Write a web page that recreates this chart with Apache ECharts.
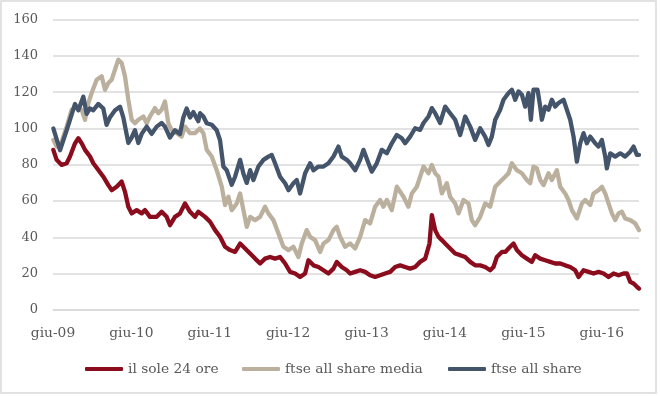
<!DOCTYPE html>
<html>
<head>
<meta charset="utf-8">
<script src="https://cdn.jsdelivr.net/npm/echarts@6/dist/echarts.min.js"></script>
<style>
html,body{margin:0;padding:0;background:#fff;}
#c{width:660px;height:396px;}
</style>
</head>
<body>
<div id="c"></div>
<script>
// months since giu-09
const tickLabels = ['giu-09','giu-10','giu-11','giu-12','giu-13','giu-14','giu-15','giu-16'];
const seriesNames = ['il sole 24 ore','ftse all share media','ftse all share'];

const soleMonths = [0.05,0.56,1.33,2.09,2.6,3.37,3.88,4.39,4.9,5.66,6.17,6.94,7.7,8.47,8.98,9.74,10.51,11.02,11.53,12.04,12.81,13.57,14.08,14.85,15.87,16.63,17.4,17.91,18.67,19.44,20.2,20.97,21.73,22.24,23.28,24.04,24.81,25.57,26.34,27.1,27.87,28.64,29.4,30.17,30.93,31.7,32.46,33.23,33.99,34.76,35.53,36.29,37.06,37.82,38.59,39.1,39.87,40.63,41.4,42.16,42.93,43.44,44.2,44.97,45.48,46.25,47.01,47.78,48.54,49.31,50.07,50.84,51.61,52.37,53.14,53.9,54.67,55.43,56.2,56.97,57.63,57.99,58.5,59.01,59.52,60.03,60.79,61.56,62.33,63.09,63.86,64.62,65.39,66.15,66.92,67.43,67.94,68.71,69.22,69.98,70.49,71.0,71.77,72.53,73.3,73.81,74.58,75.34,76.11,76.87,77.64,78.4,79.17,79.94,80.45,81.21,81.98,82.74,83.51,84.27,85.04,85.81,86.57,87.34,87.85,88.36,88.87,89.38,89.7];
const soleValues = [88.2,82.7,79.9,80.8,84.5,91.8,94.6,91.8,88.2,84.5,80.8,77.1,73.4,68.8,66,67.9,70.7,65.1,56.9,53.2,55,53.2,55,51.3,51.3,54.1,51.3,46.7,51.3,53.2,58.7,54.1,51.3,54.1,51.3,48.6,44,40.3,34.8,33,32,36.6,33.9,31.1,28.3,25.6,28.3,29.2,28.3,29.2,25.6,21,20.1,18.2,20.1,27.4,24.6,23.7,21.9,20.1,22.8,26.5,23.7,21.9,20.1,21,21.9,21,19.1,18.2,19.1,20.1,21,23.7,24.6,23.7,22.8,23.7,26.5,28.3,36.6,52.3,44,40.3,38.5,36.6,33.9,31.1,30.2,29.2,26.5,24.6,24.6,23.7,21.9,23.7,29.2,32,32,34.8,36.6,33,30.2,28.3,26.5,30.2,28.3,27.4,26.5,25.6,25.6,24.6,23.7,21.9,18.2,21.9,21,20.1,21,20.1,18.2,20.1,19.1,20.1,20.1,15.5,14.6,12.8,11.8];

const mediaMonths = [0.05,0.56,1.33,2.09,2.86,3.62,4.39,4.9,5.41,5.92,6.68,7.45,7.96,8.47,8.98,9.49,10.0,10.51,11.02,11.53,12.04,12.55,13.06,13.83,14.34,14.85,15.61,16.12,16.63,17.14,17.65,18.16,18.93,19.69,20.2,20.97,21.73,22.5,23.02,23.53,24.3,25.06,25.83,26.34,26.85,27.36,28.13,28.64,29.15,29.66,30.17,30.93,31.7,32.46,32.97,33.74,34.51,35.27,36.04,36.8,37.57,38.08,38.84,39.36,40.12,40.89,41.4,42.16,42.93,43.44,43.95,44.71,45.48,46.25,47.01,47.78,48.54,49.31,50.07,50.58,51.1,51.86,52.63,53.14,53.65,54.41,54.92,55.69,56.2,56.71,57.48,57.99,58.5,59.01,59.52,60.28,60.79,61.56,62.07,62.84,63.6,64.11,64.62,65.39,66.15,66.92,67.69,68.45,69.22,69.73,70.24,71.0,71.77,72.53,73.04,73.55,74.07,74.58,75.09,75.85,76.36,77.13,77.64,78.4,78.91,79.43,80.19,80.96,81.47,82.23,82.74,83.51,84.02,84.53,85.04,85.55,86.06,86.57,87.08,87.59,88.36,89.12,89.7];
const mediaValues = [93.7,90,92.8,101,110.3,112,110.3,104.8,114,119.5,126.8,128.7,121.3,125,126.8,132.4,137.9,136,128.7,115.8,104.8,102.9,104.8,106.6,102.9,106.6,111.2,108.4,110.3,114.9,102.9,99.2,97.4,95.5,101,97.4,97.4,100,97.4,88.2,84.5,77,67.9,57.8,62.4,55,58.7,64.2,55,45.8,51.3,49.5,51.3,56.9,53.2,49.5,42.1,34.8,33,34.8,29.2,36.6,44,40.3,38.5,32,36.6,38.5,44,45.8,40.3,34.8,36.6,33.9,40.3,49.5,47.7,56.9,60.6,56.9,60.6,55,67.9,65.1,62.4,56.9,64.2,67.9,73.4,79,75.3,79.9,75.3,73.4,64.2,69.8,62.4,58.7,53.2,60.6,58.7,49.5,46.7,51.3,58.7,56.9,67.9,70.7,73.4,75.3,80.8,77,75.3,71.6,69.8,79,78,71.6,68.8,75.3,71.6,77,67.9,64.2,60.6,55,50.4,58.7,60.6,57.8,64.2,66,67.9,64.2,58.7,53.2,49.5,53.2,54.1,50.4,49.5,47.7,44];

const allMonths = [0.05,1.07,2.09,3.37,3.88,4.64,5.15,5.66,6.17,6.94,7.7,8.2,8.7,9.5,10.26,10.77,11.53,12.04,12.55,13.06,13.57,14.34,15.1,15.87,16.63,17.14,17.9,18.67,19.44,19.95,20.46,20.97,21.48,22.24,22.51,23.02,23.53,24.3,25.06,25.57,26.08,26.59,27.36,27.87,28.64,29.15,29.66,30.17,30.68,31.44,32.21,32.97,33.48,33.99,34.76,35.53,36.04,36.8,37.31,37.82,38.59,39.36,39.87,40.63,41.4,42.16,42.93,43.69,44.2,44.97,45.48,46.25,47.01,47.52,48.29,48.8,49.56,50.33,51.1,51.86,52.63,53.39,53.9,54.67,55.43,56.2,56.71,57.48,57.99,58.5,59.26,60.03,60.79,61.56,62.33,63.09,63.86,64.62,65.39,66.15,66.66,67.17,67.69,68.45,68.96,69.73,70.24,70.75,71.26,71.77,72.28,72.79,73.15,73.55,74.17,74.58,74.83,75.34,75.85,76.36,76.87,77.38,78.15,78.66,79.17,79.68,80.19,80.7,81.21,81.72,82.23,83.0,83.51,84.02,84.53,84.78,85.3,86.06,86.83,87.59,88.36,88.87,89.38,89.7];
const allValues = [100,88,99,113.5,110,117.5,108,111,110,113.5,111,102,106,110,112,106,92,95,99,92,97,101,97,101,103,101,95,99,97,106,111,106,109,104,108.4,106.6,102.9,102,99,93.5,79,77,69,73.4,82.7,75,70,77,71.6,79,82.7,84.5,85.4,80.8,73.4,69.8,66,69.8,71.6,64.2,75.3,80.8,77,79,79,80.8,84.5,90,84.5,82.7,80.8,77,82.7,88.2,80.8,76.2,80.8,88.2,86.3,91.8,96.4,94.6,91.8,95.5,100.1,99.2,103,106.6,111.2,108.4,103,112,108.4,104.8,96.4,106.6,101,93.7,100.1,95.5,90.9,95.5,104.8,110.3,115.8,119.5,121.3,115.8,120.4,118.6,112,119.5,104.8,121.3,121.3,112,104.8,112,110.3,115.8,112,114,115.8,110.3,104.8,95.5,81.7,91.8,97.4,91.8,95.5,91.8,90,93.7,84.5,78,86.3,84.5,86.3,84.5,87.2,90,85.4,85.4];

const colors = ['#8a0c1d','#bbb09d','#44546a'];
const pair = (ms, vs) => ms.map((m, i) => [m, vs[i]]);
const seriesData = [pair(soleMonths, soleValues), pair(mediaMonths, mediaValues), pair(allMonths, allValues)];

const font = 'DejaVu Serif';
const legendLefts = [85, 242, 448];
const chart = echarts.init(document.getElementById('c'));
chart.setOption({
  animation: false,
  backgroundColor: '#fff',
  graphic: [{
    type: 'rect', shape: {x: 1, y: 1, width: 655, height: 392},
    style: {fill: 'none', stroke: '#d9d9d9', lineWidth: 1.5}, silent: true, z: -1
  }],
  grid: {left: 53, right: 21, top: 19.5, bottom: 86},
  xAxis: {
    type: 'value', min: 0, max: 89.7, interval: 12,
    axisLine: {show: true, lineStyle: {color: '#d9d9d9', width: 1.5}},
    axisTick: {show: false},
    splitLine: {show: false},
    axisLabel: {
      margin: 16, color: '#595959', fontFamily: font, fontSize: 13.8,
      showMaxLabel: false,
      formatter: v => tickLabels[Math.round(v / 12)] || ''
    }
  },
  yAxis: {
    type: 'value', min: 0, max: 160, interval: 20,
    axisLine: {show: false}, axisTick: {show: false},
    splitLine: {lineStyle: {color: '#d9d9d9', width: 1.5}},
    axisLabel: {margin: 15, color: '#595959', fontFamily: font, fontSize: 13}
  },
  legend: seriesNames.map((n, i) => ({
    left: legendLefts[i], top: 362, padding: 0, itemWidth: 38, itemHeight: 4,
    icon: 'roundRect',
    textStyle: {color: '#595959', fontFamily: font, fontSize: 13.8},
    data: [n]
  })),
  series: seriesNames.map((n, i) => ({
    name: n, type: 'line', data: seriesData[i], showSymbol: false, symbol: 'none',
    color: colors[i],
    lineStyle: {width: 4.3, color: colors[i], cap: 'round', join: 'round'}
  }))
});
</script>
</body>
</html>
